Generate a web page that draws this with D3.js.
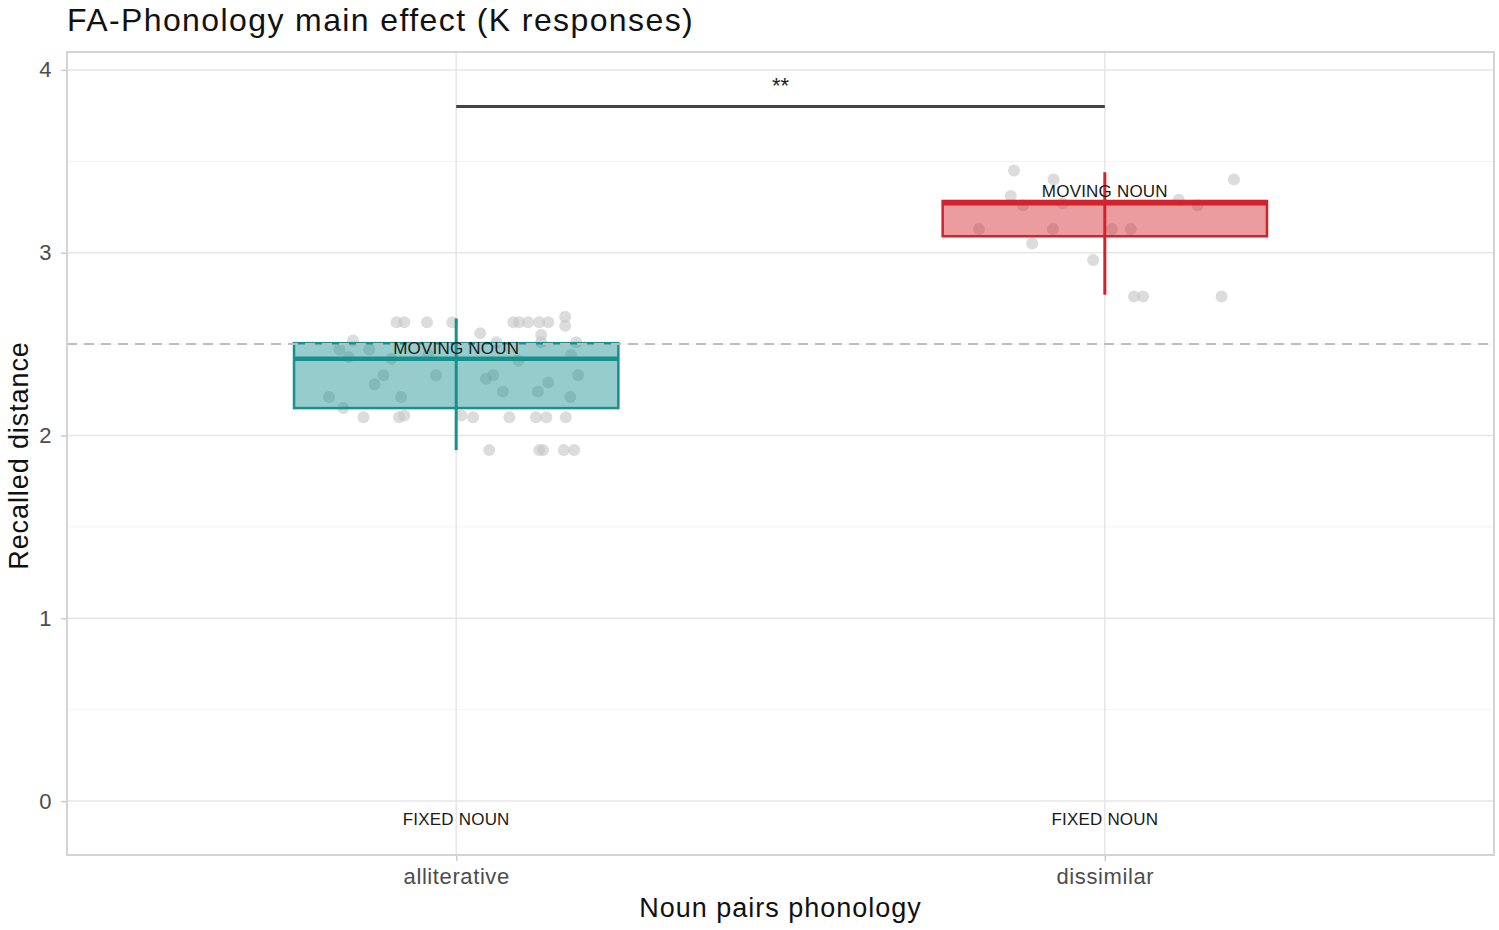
<!DOCTYPE html>
<html>
<head>
<meta charset="utf-8">
<script src="https://cdn.jsdelivr.net/npm/d3@7"></script>
<style>
	body { margin: 0; background: #fff; }
	text { font-family: "Liberation Sans", Arial, sans-serif; }
</style>
</head>
<body>
<div id="chart"></div>
<script>
	// categories and box summaries
	const categories = ['alliterative', 'dissimilar'];
	const boxColors = ['#17908e', '#d0232b'];
	const whiskerLow = [1.92, 2.77];
	const q1 = [2.15, 3.09];
	const median = [2.42, 3.27];
	const q3 = [2.505, 3.283];
	const whiskerHigh = [2.64, 3.44];

	// label positions (data units)
	const movingLabelY = [2.48, 3.34];
	const fixedLabelY = [-0.1, -0.1];

	// jittered points (jitter in category units)
	const alliterativeJitter = [
		-0.092,-0.080,-0.045,-0.006,0.088,0.097,0.111,0.128,0.142,0.168,0.168,
		0.037,0.131,
		-0.159,0.062,0.131,0.185,
		-0.180,-0.134,-0.166,-0.100,-0.043,0.096,0.177,
		-0.112,-0.031,0.046,0.057,0.188,
		-0.126,0.142,
		0.072,0.126,
		-0.196,-0.085,0.176,
		-0.174,
		-0.143,-0.088,-0.080,0.008,0.026,0.082,0.123,0.139,0.169,
		0.051,0.128,0.134,0.166,0.182
	];
	const alliterativeValues = [
		2.62,2.62,2.62,2.62,2.62,2.62,2.62,2.62,2.62,2.65,2.60,
		2.56,2.55,
		2.52,2.51,2.51,2.51,
		2.47,2.47,2.43,2.42,2.44,2.41,2.44,
		2.33,2.33,2.31,2.33,2.33,
		2.28,2.29,
		2.24,2.24,
		2.21,2.21,2.21,
		2.15,
		2.10,2.10,2.11,2.11,2.10,2.10,2.10,2.10,2.10,
		1.92,1.92,1.92,1.92,1.92
	];
	const dissimilarJitter = [
		-0.140,-0.079,0.199,-0.145,-0.126,-0.065,0.114,0.143,
		-0.194,-0.080,0.011,0.040,-0.112,-0.018,0.045,0.059,0.180
	];
	const dissimilarValues = [
		3.45,3.40,3.40,3.31,3.26,3.27,3.29,3.26,
		3.13,3.13,3.13,3.13,3.05,2.96,2.76,2.76,2.76
	];

	const yTicks = [0, 1, 2, 3, 4];
	const yMinor = [0.5, 1.5, 2.5, 3.5];
	const refLine = 2.5;
	const sigY = 3.8;
	const sigLabelY = 3.93;
	const sigLabel = '**';

	const width = 1499, height = 930;
	const margin = {top: 52, right: 5, bottom: 75, left: 67};
	const pw = width - margin.left - margin.right,
		ph = height - margin.top - margin.bottom;

	const svg = d3.select('#chart')
		.append('svg')
		.attr('width', width)
		.attr('height', height);

	const g = svg.append('g')
		.attr('transform', 'translate(' + margin.left + ',' + margin.top + ')');

	// discrete x with 0.6 unit padding on each side
	const x = d3.scalePoint()
		.domain(categories)
		.range([0, pw])
		.padding(0.6);
	const step = x.step();

	const y = d3.scaleLinear()
		.domain([-0.295, 4.098])
		.range([ph, 0]);

	// grid
	g.selectAll('.minor')
		.data(yMinor)
		.enter().append('line')
		.attr('x1', 0).attr('x2', pw)
		.attr('y1', d => y(d)).attr('y2', d => y(d))
		.attr('stroke', '#f2f2f2').attr('stroke-width', 1);

	g.selectAll('.major')
		.data(yTicks)
		.enter().append('line')
		.attr('x1', 0).attr('x2', pw)
		.attr('y1', d => y(d)).attr('y2', d => y(d))
		.attr('stroke', '#e6e6e6').attr('stroke-width', 1.5);

	g.selectAll('.vmajor')
		.data(categories)
		.enter().append('line')
		.attr('x1', d => x(d)).attr('x2', d => x(d))
		.attr('y1', 0).attr('y2', ph)
		.attr('stroke', '#e6e6e6').attr('stroke-width', 1.5);

	// axes
	const yAxis = g.append('g')
		.call(d3.axisLeft(y).tickValues(yTicks).tickFormat(d3.format('d')).tickSize(6).tickPadding(9));
	const xAxis = g.append('g')
		.attr('transform', 'translate(0,' + ph + ')')
		.call(d3.axisBottom(x).tickSize(6).tickPadding(7));
	[yAxis, xAxis].forEach(function(a) {
		a.select('.domain').remove();
		a.selectAll('.tick line').attr('stroke', '#cccccc').attr('stroke-width', 1.5);
		a.selectAll('.tick text')
			.attr('fill', '#4d4d4d')
			.style('font-size', '22px')
			.style('letter-spacing', '0.6px')
			.style('font-family', '"Liberation Sans", Arial, sans-serif');
	});

	// jittered points
	const pts = [];
	alliterativeValues.forEach(function(v, i) { pts.push({c: 0, j: alliterativeJitter[i], v: v}); });
	dissimilarValues.forEach(function(v, i) { pts.push({c: 1, j: dissimilarJitter[i], v: v}); });

	g.selectAll('.pt')
		.data(pts)
		.enter().append('circle')
		.attr('cx', d => x(categories[d.c]) + d.j * step)
		.attr('cy', d => y(d.v))
		.attr('r', 6)
		.attr('fill', '#c4c4c4')
		.attr('fill-opacity', 0.6);

	// boxes
	const boxW = 0.5 * step;
	categories.forEach(function(c, i) {
		const cx = x(c);
		g.append('line')
			.attr('x1', cx).attr('x2', cx)
			.attr('y1', y(whiskerLow[i])).attr('y2', y(whiskerHigh[i]))
			.attr('stroke', boxColors[i]).attr('stroke-width', 3);
		g.append('rect')
			.attr('x', cx - boxW / 2)
			.attr('width', boxW)
			.attr('y', y(q3[i]))
			.attr('height', y(q1[i]) - y(q3[i]))
			.attr('fill', boxColors[i])
			.attr('fill-opacity', 0.45)
			.attr('stroke', boxColors[i])
			.attr('stroke-width', 2.5);
		g.append('line')
			.attr('x1', cx - boxW / 2).attr('x2', cx + boxW / 2)
			.attr('y1', y(median[i])).attr('y2', y(median[i]))
			.attr('stroke', boxColors[i]).attr('stroke-width', 4.5);
	});

	// chance reference line
	g.append('line')
		.attr('x1', 0).attr('x2', pw)
		.attr('y1', y(refLine)).attr('y2', y(refLine))
		.attr('stroke', '#bdbdbd')
		.attr('stroke-width', 2)
		.attr('stroke-dasharray', '10,7');

	// annotations
	categories.forEach(function(c, i) {
		g.append('text')
			.attr('x', x(c)).attr('y', y(movingLabelY[i]))
			.attr('text-anchor', 'middle')
			.attr('dy', '0.35em')
			.attr('fill', '#1a1a1a')
			.style('font-size', '17px')
			.style('letter-spacing', '0.2px')
			.text('MOVING NOUN');
		g.append('text')
			.attr('x', x(c)).attr('y', y(fixedLabelY[i]))
			.attr('text-anchor', 'middle')
			.attr('dy', '0.35em')
			.attr('fill', '#1a1a1a')
			.style('font-size', '17px')
			.style('letter-spacing', '0.2px')
			.text('FIXED NOUN');
	});

	// significance bracket
	g.append('line')
		.attr('x1', x(categories[0])).attr('x2', x(categories[1]))
		.attr('y1', y(sigY)).attr('y2', y(sigY))
		.attr('stroke', '#444444').attr('stroke-width', 3);
	g.append('text')
		.attr('x', (x(categories[0]) + x(categories[1])) / 2)
		.attr('y', y(sigLabelY))
		.attr('text-anchor', 'middle')
		.attr('dy', '0.45em')
		.attr('fill', '#222')
		.style('font-size', '22px')
		.text(sigLabel);

	// panel border
	g.append('rect')
		.attr('x', 0).attr('y', 0)
		.attr('width', pw).attr('height', ph)
		.attr('fill', 'none')
		.attr('stroke', '#d4d4d4')
		.attr('stroke-width', 2);

	// titles
	svg.append('text')
		.attr('x', margin.left).attr('y', 31)
		.attr('fill', '#111')
		.style('font-size', '32px')
		.style('letter-spacing', '1.4px')
		.text('FA-Phonology main effect (K responses)');

	svg.append('text')
		.attr('x', margin.left + pw / 2).attr('y', 917)
		.attr('text-anchor', 'middle')
		.attr('fill', '#111')
		.style('font-size', '27px')
		.style('letter-spacing', '1px')
		.text('Noun pairs phonology');

	svg.append('text')
		.attr('transform', 'translate(28,' + (margin.top + ph / 2 + 2) + ') rotate(-90)')
		.attr('text-anchor', 'middle')
		.attr('fill', '#111')
		.style('font-size', '27px')
		.style('letter-spacing', '0.9px')
		.text('Recalled distance');
</script>
</body>
</html>
